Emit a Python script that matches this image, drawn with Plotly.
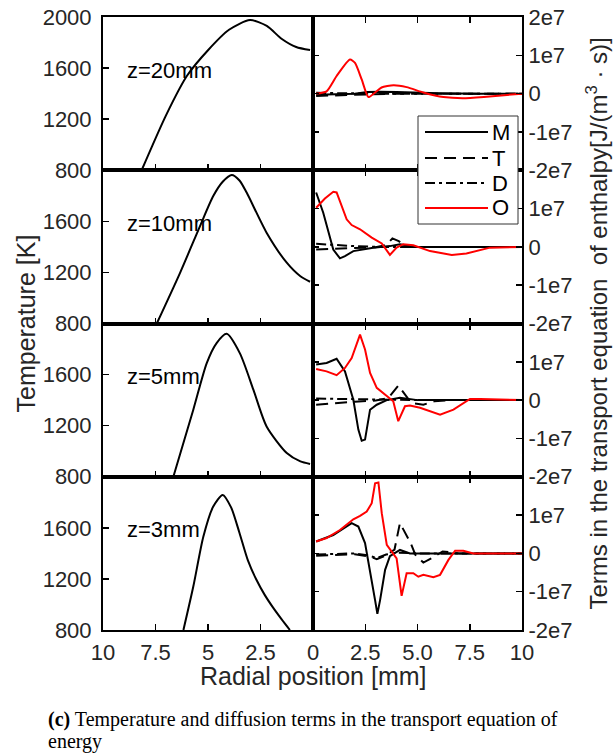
import plotly.graph_objects as go

# ---------------- data ----------------
z_labels = ["z=20mm", "z=10mm", "z=5mm", "z=3mm"]

# Temperature profiles (left column), radial position [mm] and T [K]
r_T20 = [8.16, 7.0, 6.0, 5.0, 4.0, 3.0, 2.2, 1.5, 0.8, 0.14]
T_20 = [800, 1230, 1540, 1740, 1900, 1976, 1930, 1830, 1765, 1741]
r_T10 = [7.44, 6.33, 5.38, 4.75, 4.3, 3.87, 3.5, 3.16, 2.21, 1.25, 0.6, 0.14]
T_10 = [800, 1197, 1563, 1798, 1910, 1963, 1920, 1825, 1511, 1276, 1170, 1127]
r_T5 = [6.65, 5.70, 5.06, 4.59, 4.11, 3.48, 2.84, 2.21, 1.25, 0.6, 0.14]
T_5 = [800, 1325, 1690, 1847, 1919, 1766, 1482, 1194, 986, 920, 900]
r_T3 = [6.17, 5.70, 5.22, 4.75, 4.30, 3.9, 3.5, 3.1, 2.7, 2.3, 1.9, 1.5, 1.10]
T_3 = [800, 1140, 1532, 1767, 1858, 1760, 1560, 1345, 1195, 1075, 975, 885, 800]

# Terms in the enthalpy transport equation (right column), units of 1e7 J/(m3 s)
# z = 20 mm
r_M20 = [0.15, 1, 2, 2.6, 3.2, 4, 5, 6, 8, 10]
M_20 = [-0.03, -0.02, 0, 0.04, 0.05, 0.04, 0.02, 0.01, 0, 0]
r_Tt20 = [0.15, 1, 2, 3, 4, 6, 10]
Tt_20 = [-0.06, -0.05, -0.03, -0.01, 0, 0, 0]
r_D20 = [0.15, 1, 2, 3, 4, 6, 10]
D_20 = [0.02, 0.01, 0, 0, 0, 0, 0]
r_O20 = [0.15, 0.65, 1.13, 1.77, 2.01, 2.33, 2.65, 2.97, 3.28, 3.85, 4.48, 5.28, 6.24, 7.18, 8.31, 10]
O_20 = [0, 0.06, 0.46, 0.89, 0.8, 0.37, -0.09, 0.03, 0.16, 0.22, 0.17, 0.03, -0.09, -0.12, -0.08, 0]
# z = 10 mm
r_M10 = [0.15, 0.49, 0.97, 1.29, 1.53, 1.93, 2.88, 3.68, 4.16, 4.96, 6, 10]
M_10 = [1.42, 0.89, -0.07, -0.3, -0.24, -0.11, -0.02, 0.02, 0.07, 0, 0, 0]
r_Tt10 = [0.15, 1, 2, 3, 3.5, 3.8, 4.1, 4.5, 5, 10]
Tt_10 = [-0.07, -0.05, -0.03, -0.01, 0.05, 0.22, 0.15, 0.0, 0, 0]
r_D10 = [0.15, 1, 2, 3, 4, 5, 10]
D_10 = [0.08, 0.05, 0.02, 0.0, 0, 0, 0]
r_O10 = [0.15, 0.57, 0.97, 1.13, 1.61, 1.85, 2.25, 2.81, 3.29, 3.68, 4.0, 4.32, 4.8, 5.6, 6.64, 7.34, 8.47, 10]
O_10 = [1.02, 1.26, 1.44, 1.42, 0.72, 0.57, 0.46, 0.24, 0.09, -0.21, -0.02, 0.07, 0.04, -0.11, -0.21, -0.17, -0.02, 0]
# z = 5 mm
r_M5 = [0.15, 0.65, 1.13, 1.53, 1.93, 2.17, 2.33, 2.49, 2.73, 3.05, 3.53, 4.16, 5, 10]
M_5 = [0.93, 0.97, 1.08, 0.75, 0.01, -0.77, -1.06, -1.03, -0.25, -0.12, 0, 0.06, 0, 0]
r_Tt5 = [0.15, 1, 2, 3, 3.6, 4.08, 4.4, 4.7, 5.28, 5.8, 6.5, 10]
Tt_5 = [-0.12, -0.08, -0.04, -0.01, 0.05, 0.38, 0.15, -0.07, -0.12, -0.03, 0, 0]
r_D5 = [0.15, 1, 2, 3, 4, 5, 10]
D_5 = [0.04, 0.03, 0.02, 0.01, 0, 0, 0]
r_O5 = [0.15, 0.65, 1.13, 1.53, 1.85, 2.25, 2.49, 2.73, 3.05, 3.53, 3.84, 4.08, 4.4, 4.64, 5.12, 6.08, 6.72, 7.51, 8.0, 10]
O_5 = [0.81, 0.75, 0.65, 0.84, 1.10, 1.71, 1.32, 0.71, 0.32, 0.12, -0.03, -0.55, -0.16, -0.14, -0.2, -0.38, -0.25, 0.03, 0.03, 0]
# z = 3 mm
r_M3 = [0.15, 0.97, 1.85, 2.17, 2.49, 2.73, 2.97, 3.08, 3.21, 3.45, 3.68, 4.16, 4.64, 6, 10]
M_3 = [0.31, 0.48, 0.79, 0.70, 0.27, -0.43, -1.22, -1.58, -1.22, -0.43, -0.07, 0.09, 0, 0, 0]
r_Tt3 = [0.15, 1, 2, 2.7, 3.05, 3.5, 3.9, 4.16, 4.4, 4.67, 4.9, 5.28, 5.76, 6.2, 7, 10]
Tt_3 = [-0.06, -0.04, -0.02, -0.08, -0.15, -0.05, 0.1, 0.79, 0.55, 0.27, -0.04, -0.24, -0.1, 0.05, 0, 0]
r_D3 = [0.15, 1, 2, 2.6, 3.05, 3.5, 4, 5, 10]
D_3 = [-0.03, -0.02, 0, -0.05, -0.12, -0.03, 0.02, 0, 0]
r_O3 = [0.15, 0.65, 1.29, 1.93, 2.25, 2.57, 2.81, 2.97, 3.13, 3.29, 3.53, 4.0, 4.24, 4.48, 4.8, 5.04, 5.28, 5.76, 6.08, 6.48, 6.8, 7.19, 7.67, 10]
O_3 = [0.31, 0.40, 0.61, 0.89, 0.98, 1.09, 1.31, 1.83, 1.85, 1.05, 0.22, -0.13, -1.11, -0.52, -0.52, -0.61, -0.56, -0.62, -0.56, -0.17, 0.07, 0.07, 0, 0]

term_names = ["M", "T", "D", "O"]
SCALE = 1e7

x_left_ticks = [0, 2.5, 5, 7.5, 10]
x_left_text = ["", "2.5", "5", "7.5", "10"]
x_right_ticks = [0, 2.5, 5, 7.5, 10]
x_right_text = ["0", "2.5", "5.0", "7.5", "10"]
yT_ticks_top = [800, 1200, 1600, 2000]
yT_ticks = [800, 1200, 1600]
yS_ticks_top = [-2e7, -1e7, 0, 1e7, 2e7]
yS_text_top = ["-2e7", "-1e7", "0", "1e7", "2e7"]
yS_ticks = [-2e7, -1e7, 0, 1e7]
yS_text = ["-2e7", "-1e7", "0", "1e7"]

temp_rows = [(r_T20, T_20), (r_T10, T_10), (r_T5, T_5), (r_T3, T_3)]
term_rows = [
    [(r_M20, M_20), (r_Tt20, Tt_20), (r_D20, D_20), (r_O20, O_20)],
    [(r_M10, M_10), (r_Tt10, Tt_10), (r_D10, D_10), (r_O10, O_10)],
    [(r_M5, M_5), (r_Tt5, Tt_5), (r_D5, D_5), (r_O5, O_5)],
    [(r_M3, M_3), (r_Tt3, Tt_3), (r_D3, D_3), (r_O3, O_3)],
]

# ---------------- style / layout ----------------
W, H = 613, 753
X0, XM, X1 = 103, 313, 522
TOP, BOT = 17, 630
rowh = (BOT - TOP) / 4
FONT = "Liberation Sans, Arial, Helvetica, sans-serif"
SERIF = "Liberation Serif, Times New Roman, serif"
TXT = "#262626"

term_styles = [
    dict(color="black", width=2, dash="solid"),
    dict(color="black", width=2, dash="12px,7px"),
    dict(color="black", width=2, dash="10px,4px,3px,4px"),
    dict(color="#ff0000", width=2, dash="solid"),
]
red_smooth = [True, False, False, False]


def fx(px):
    return px / W


def fy(py):
    return 1 - py / H


def axname(kind, n):
    return kind + ("" if n == 1 else str(n))


def ref(kind, n):
    return kind + ("" if n == 1 else str(n))


common = dict(showline=True, linecolor="black", linewidth=2, ticks="inside",
              ticklen=6, tickwidth=1.5, tickcolor="black", showgrid=False,
              zeroline=False, automargin=False,
              tickfont=dict(family=FONT, size=22, color=TXT))

fig = go.Figure()
layout = {}
annotations = []

for i in range(4):
    top = TOP + i * rowh
    bot = top + rowh
    yd = [fy(bot), fy(top)]
    nl, nr = 2 * i + 1, 2 * i + 2
    last = (i == 3)
    layout[axname("xaxis", nl)] = dict(common, domain=[fx(X0), fx(XM)], range=[10, 0],
                                       anchor=ref("y", nl), mirror=True,
                                       tickmode="array", tickvals=x_left_ticks, ticktext=x_left_text,
                                       showticklabels=last, ticklabelstandoff=2)
    layout[axname("yaxis", nl)] = dict(common, domain=yd, range=[800, 2000],
                                       anchor=ref("x", nl), mirror=True, tickmode="array",
                                       tickvals=yT_ticks_top if i == 0 else yT_ticks,
                                       ticklabelstandoff=5)
    layout[axname("xaxis", nr)] = dict(common, domain=[fx(XM), fx(X1)], range=[0, 10],
                                       anchor=ref("y", nr), mirror="ticks",
                                       tickmode="array", tickvals=x_right_ticks, ticktext=x_right_text,
                                       showticklabels=last, ticklabelstandoff=2)
    layout[axname("yaxis", nr)] = dict(common, domain=yd, range=[-2e7, 2e7],
                                       anchor=ref("x", nr), side="right", mirror="ticks",
                                       tickmode="array",
                                       tickvals=yS_ticks_top if i == 0 else yS_ticks,
                                       ticktext=yS_text_top if i == 0 else yS_text,
                                       ticklabelstandoff=0)

    rr, tt = temp_rows[i]
    fig.add_trace(go.Scatter(x=rr, y=tt, mode="lines", showlegend=False,
                             line=dict(color="black", width=2, shape="spline", smoothing=0.7),
                             xaxis=ref("x", nl), yaxis=ref("y", nl)))
    for k, (rs, vs) in enumerate(term_rows[i]):
        st = dict(term_styles[k])
        if k == 3 and red_smooth[i]:
            st.update(shape="spline", smoothing=0.6)
        fig.add_trace(go.Scatter(x=rs, y=[v * SCALE for v in vs], mode="lines",
                                 name=term_names[k], showlegend=False, line=st,
                                 xaxis=ref("x", nr), yaxis=ref("y", nr)))
    annotations.append(dict(xref=ref("x", nl), yref=ref("y", nl), x=8.95, y=1584,
                            text=z_labels[i], showarrow=False, xanchor="left", yanchor="middle",
                            font=dict(family=FONT, size=22, color="black")))

# axis titles and caption
annotations += [
    dict(xref="paper", yref="paper", x=fx(312.5), y=fy(676), text="Radial position [mm]",
         showarrow=False, xanchor="center", yanchor="middle",
         font=dict(family=FONT, size=25, color=TXT)),
    dict(xref="paper", yref="paper", x=fx(25), y=fy(323.5), text="Temperature [K]",
         textangle=-90, showarrow=False, xanchor="center", yanchor="middle",
         font=dict(family=FONT, size=25, color=TXT)),
    dict(xref="paper", yref="paper", x=fx(596), y=fy(323.5),
         text="Terms in the transport equation  of enthalpy[J/(m<sup>3</sup> · s)]",
         textangle=-90, showarrow=False, xanchor="center", yanchor="middle",
         font=dict(family=FONT, size=24, color=TXT)),
    dict(xref="paper", yref="paper", x=fx(46), y=fy(719),
         text="<b>(c)</b> Temperature and diffusion terms in the transport equation of",
         showarrow=False, xanchor="left", yanchor="middle",
         font=dict(family=SERIF, size=20, color="black")),
    dict(xref="paper", yref="paper", x=fx(46), y=fy(741), text="energy",
         showarrow=False, xanchor="left", yanchor="middle",
         font=dict(family=SERIF, size=20, color="black")),
]

# legend (drawn manually to match sample length)
shapes = [dict(type="rect", xref="paper", yref="paper", x0=fx(418), x1=fx(518),
               y0=fy(224), y1=fy(116), line=dict(color="#333333", width=1),
               fillcolor="white", layer="above")]
leg_y = [132, 158, 183, 208]
for k, name in enumerate(term_names):
    shapes.append(dict(type="line", xref="paper", yref="paper", x0=fx(425), x1=fx(488),
                       y0=fy(leg_y[k]), y1=fy(leg_y[k]), line=term_styles[k], layer="above"))
    annotations.append(dict(xref="paper", yref="paper", x=fx(490), y=fy(leg_y[k]), text=name,
                            showarrow=False, xanchor="left", yanchor="middle",
                            font=dict(family=FONT, size=22, color="black")))

fig.update_layout(template="none", width=W, height=H,
                  margin=dict(l=0, r=0, t=0, b=0, pad=0, autoexpand=False),
                  paper_bgcolor="white", plot_bgcolor="white",
                  showlegend=False, annotations=annotations, shapes=shapes, **layout)

fig.write_html("out.html", config={"displayModeBar": False, "staticPlot": True},
               post_script="document.body.style.margin='0px';document.body.style.overflow='hidden';")
